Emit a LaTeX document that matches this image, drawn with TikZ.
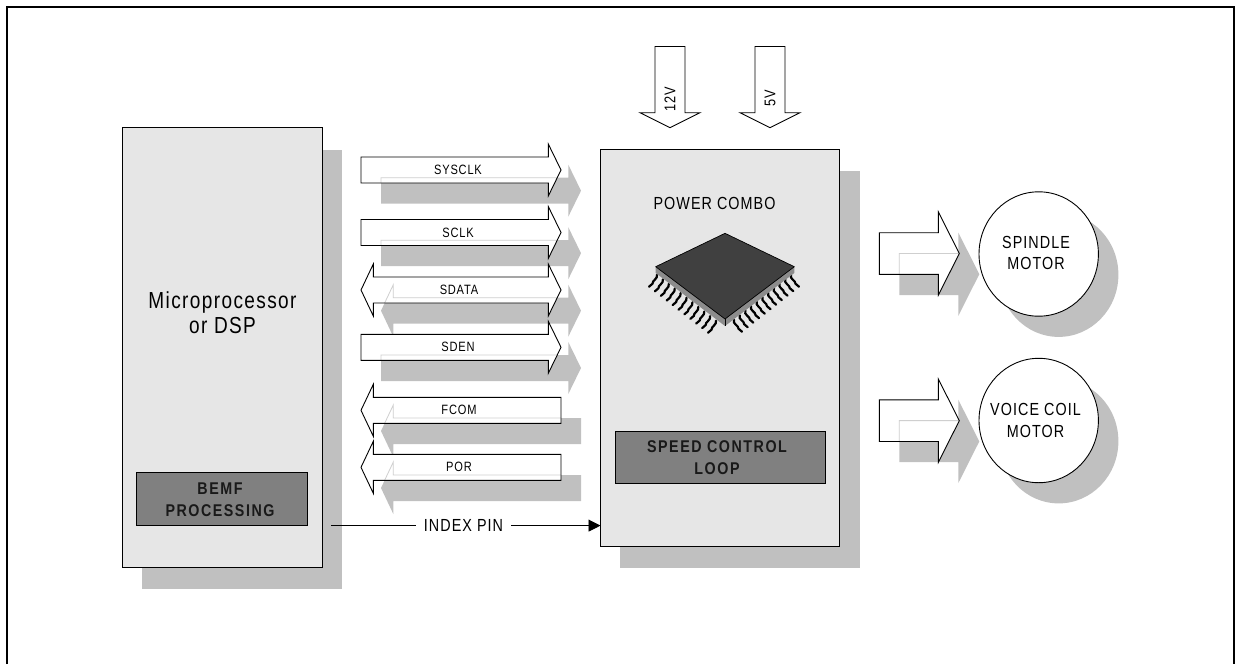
\documentclass[tikz,border=0pt]{standalone}
\usepackage{fontspec}
\setmainfont{Liberation Sans}
\newfontfamily\labfont[FakeStretch=0.82,LetterSpace=6]{Liberation Sans}
\newfontfamily\boldlab[FakeStretch=0.84,LetterSpace=9]{Liberation Sans}
\usetikzlibrary{arrows.meta,shapes.geometric}
\definecolor{shadowgrey}{HTML}{C0C0C0}
\definecolor{blockgrey}{HTML}{E6E6E6}
\definecolor{darkbox}{HTML}{808080}
\definecolor{faintline}{HTML}{CFCFCF}
\definecolor{chipface}{HTML}{404040}
\definecolor{chipside}{HTML}{8C8C8C}
\newcommand\shapeR[1]{(361,#1-13) -- (548.3,#1-13) -- (548.3,#1-26) -- (561,#1) -- (548.3,#1+26) -- (548.3,#1+13) -- (361,#1+13) -- cycle}
\newcommand\shapeL[1]{(561,#1-13) -- (373.3,#1-13) -- (373.3,#1-26) -- (361,#1) -- (373.3,#1+26) -- (373.3,#1+13) -- (561,#1+13) -- cycle}
\newcommand\shapeB[1]{(373.3,#1-13) -- (548.3,#1-13) -- (548.3,#1-26) -- (561,#1) -- (548.3,#1+26) -- (548.3,#1+13) -- (373.3,#1+13) -- (373.3,#1+26) -- (361,#1) -- (373.3,#1-26) -- cycle}
\newcommand\shapeM[1]{(879.3,#1-20.8) -- (938.3,#1-20.8) -- (938.3,#1-41.7) -- (959.3,#1) -- (938.3,#1+41.7) -- (938.3,#1+20.8) -- (879.3,#1+20.8) -- cycle}
\newcommand\shapeD[1]{(#1-15,46.5) -- (#1+15,46.5) -- (#1+15,112.7) -- (#1+30,112.7) -- (#1,127.7) -- (#1-30,112.7) -- (#1-15,112.7) -- cycle}
\newcommand\shadowof[1]{\fill[shadowgrey,shift={(20,20.7)}] #1;}
\newcommand\faceof[1]{\begin{scope}\clip #1;\fill[white] (300,100) rectangle (1000,520);\draw[faintline,line width=0.8pt,shift={(20,20.7)}] #1;\end{scope}\draw[line width=0.9pt,line join=miter] #1;}
\tikzset{
  blockbox/.style={draw=black,line width=1pt,fill=blockgrey,outer sep=0pt,inner sep=0pt,anchor=north west},
  darkpanel/.style={draw=black,line width=0.9pt,fill=darkbox,inner sep=0pt,outer sep=0pt,anchor=north west},
  paneltext/.style={inner sep=0pt,align=center,font={\fontsize{17}{22.3}\boldlab\bfseries},text=black!90},
  sig/.style={inner sep=0pt,font={\fontsize{13.5}{15}\labfont}},
  biglab/.style={inner sep=0pt,align=center,font={\fontsize{17.5}{21.5}\labfont}},
  pinstroke/.style={line width=2.2pt,line cap=round,draw=black}
}
\begin{document}
\begin{tikzpicture}[x=1pt,y=-1pt]
\useasboundingbox (0,0) rectangle (1239,664);
\draw[line width=2pt] (6.9,664) -- (6.9,6.9) -- (1234,6.9) -- (1234,664);
% block shadows
\fill[shadowgrey] (142,150) rectangle (342,588.5);
\fill[shadowgrey] (620,171) rectangle (860,567.5);
% left block
\node[blockbox,minimum width=199.5pt,minimum height=439.5pt] (mpu) at (122.5,127.5) {};
\node[inner sep=0pt,align=center,font={\fontsize{23.2}{25}\labfont}] (mputext) at (222.5,312.5) {Microprocessor\\or DSP};
\node[darkpanel,minimum width=170.3pt,minimum height=53pt] (bemf) at (136.7,472.7) {};
\node[paneltext] (bemftext) at (220,499.5) {BEMF\\PROCESSING};
% right block
\node[blockbox,minimum width=239pt,minimum height=396.5pt] (combo) at (600.5,149.5) {};
\node[biglab] (combotext) at (714.5,203) {POWER COMBO};
\node[darkpanel,minimum width=210pt,minimum height=51.6pt] (speed) at (615,431.7) {};
\node[paneltext] (speedtext) at (717,457.5) {SPEED CONTROL\\LOOP};
% bus arrows: shadows first
\foreach \y in {170,232.5,347.3}{\shadowof{\shapeR{\y}}}
\shadowof{\shapeB{290}}
\foreach \y in {410.3,467.3}{\shadowof{\shapeL{\y}}}
\foreach \y in {253.5,420.7}{\shadowof{\shapeM{\y}}}
% motor shadows
\fill[shadowgrey] (1058.7,274.7) ellipse [x radius=59.7,y radius=62.2];
\fill[shadowgrey] (1058.7,441.2) ellipse [x radius=59.7,y radius=62.2];
% arrow faces
\foreach \y in {170,232.5,347.3}{\faceof{\shapeR{\y}}}
\faceof{\shapeB{290}}
\foreach \y in {410.3,467.3}{\faceof{\shapeL{\y}}}
\foreach \y in {253.5,420.7}{\faceof{\shapeM{\y}}}
% labels
\node[sig] (sysclk) at (458,170) {SYSCLK};
\node[sig] (sclk) at (458,232.5) {SCLK};
\node[sig] (sdata) at (459,290) {SDATA};
\node[sig] (sden) at (458,347.3) {SDEN};
\node[sig] (fcom) at (459,410.3) {FCOM};
\node[sig] (por) at (459,467.3) {POR};
% motors
\node[draw,line width=0.9pt,fill=white,ellipse,outer sep=0pt,minimum width=119.4pt,minimum height=124.4pt,inner sep=0pt] (spindle) at (1038.7,254) {};
\node[draw,line width=0.9pt,fill=white,ellipse,outer sep=0pt,minimum width=119.4pt,minimum height=124.4pt,inner sep=0pt] (vcm) at (1038.7,420.5) {};
\node[biglab] at (1036,253) (spindletext) {SPINDLE\\MOTOR};
\node[biglab] at (1035.5,420.5) (vcmtext) {VOICE COIL\\MOTOR};
% supply arrows
\fill[white] \shapeD{670};
\draw[line width=0.9pt] \shapeD{670};
\fill[white] \shapeD{770};
\draw[line width=0.9pt] \shapeD{770};
\node[rotate=90,inner sep=0pt,font={\fontsize{15.5}{17}\labfont}] (v12) at (670,99) {12V};
\node[rotate=90,inner sep=0pt,font={\fontsize{15.5}{17}\labfont}] (v5) at (770,98) {5V};
% index pin
\coordinate (indexstart) at (331,525.6);
\node[inner sep=0pt,minimum width=95pt,font={\fontsize{17.5}{19}\labfont}] (indexpin) at (463.5,525.6) {INDEX PIN};
\draw[line width=0.9pt] (indexstart) -- (indexpin.west);
\draw[line width=0.9pt,-{Triangle[length=12pt,width=12pt]}] (indexpin.east) -- (indexpin.east -| combo.west);
% chip
\foreach \i in {0,...,10}{
  \draw[pinstroke] ({649+5.9*\i+8},{286.7+4.6*\i-12}) .. controls ({649+5.9*\i+9},{286.7+4.6*\i-8}) and ({649+5.9*\i+3},{286.7+4.6*\i-6}) .. ({649+5.9*\i+3.5},{286.7+4.6*\i-3}) -- ({649+5.9*\i},{286.7+4.6*\i});
  \draw[pinstroke] ({799-5.7*\i-8},{286.7+4.5*\i-12}) .. controls ({799-5.7*\i-10},{286.7+4.5*\i-8}) and ({799-5.7*\i-3},{286.7+4.5*\i-6}) .. ({799-5.7*\i-3.5},{286.7+4.5*\i-3}) -- ({799-5.7*\i},{286.7+4.5*\i});
}
\fill[chipside] (655.7,266.7) -- (725,319) -- (794.3,266.7) -- (794.3,273) -- (725,326) -- (655.7,273) -- cycle;
\draw[black,line width=0.5pt] (725,319) -- (725,326);
\draw[fill=chipface,line width=0.7pt,line join=round] (725,233.3) -- (794.3,266.7) -- (725,319) -- (655.7,266.7) -- cycle;
\end{tikzpicture}
\end{document}
